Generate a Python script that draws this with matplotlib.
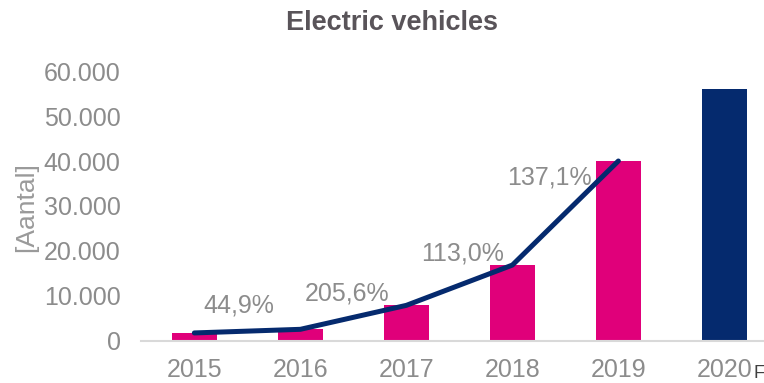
import matplotlib.pyplot as plt
from matplotlib.ticker import FuncFormatter

plt.rcParams['font.family'] = ['Liberation Sans', 'DejaVu Sans']

# Number of electric vehicles per year (2020 is a forecast)
years = ['2015', '2016', '2017', '2018', '2019', '2020']
counts = [1789, 2592, 7920, 16870, 40000, 56000]
forecast = [False, False, False, False, False, True]

# where the year-on-year growth labels go (data coordinates)
growth_label_pos = [(0.42, 7960), (1.44, 10620), (2.53, 19470), (3.35, 36280)]

pink = '#E0007A'
navy = '#052A6E'
grey = '#8C8C8C'

fig = plt.figure(figsize=(7.64, 3.83), dpi=100)
ax = fig.add_axes([0.185, 0.1097, 0.8325, 0.7049])

x = list(range(len(years)))
bar_colors = [navy if f else pink for f in forecast]
ax.bar(x, counts, width=0.42, color=bar_colors, zorder=2)

# trend line over the realised years only
real_x = [i for i in x if not forecast[i]]
real_y = [counts[i] for i in real_x]
ax.plot(real_x, real_y, color=navy, lw=3.6, solid_capstyle='round',
        solid_joinstyle='round', zorder=3)

# growth percentages, Dutch decimal comma
for i, (px, py) in zip(real_x[1:], growth_label_pos):
    g = (counts[i] / counts[i - 1] - 1) * 100
    ax.text(px, py, f'{g:.1f}%'.replace('.', ','), ha='center', va='center',
            fontsize=18, color=grey, zorder=4)

ax.set_xlim(-0.5, 5.5)
ax.set_ylim(0, 60000)
ax.set_yticks(range(0, 60001, 10000))
ax.yaxis.set_major_formatter(FuncFormatter(lambda v, p: f'{int(v):,}'.replace(',', '.')))
ax.set_xticks(x)
ax.set_xticklabels(years)
ax.tick_params(axis='both', length=0, labelsize=18, labelcolor=grey)
ax.tick_params(axis='y', pad=15)
ax.tick_params(axis='x', pad=12)

for side in ['top', 'right', 'left']:
    ax.spines[side].set_visible(False)
ax.spines['bottom'].set_color('#D9D9D9')
ax.spines['bottom'].set_linewidth(1.5)

fig.text(26 / 764, 1 - 207 / 383, '[Aantal]', rotation=90, ha='center',
         va='center', fontsize=19, color='#9A9A9A')
fig.text(753.5 / 764, 1 - 373 / 383, 'F', ha='left', va='center',
         fontsize=13, color='#404040')
fig.text(392 / 764, 1 - 23 / 383, 'Electric vehicles', ha='center',
         va='center', fontsize=19.5, fontweight='bold', color='#595459')

fig.savefig('out.png', dpi=100)
